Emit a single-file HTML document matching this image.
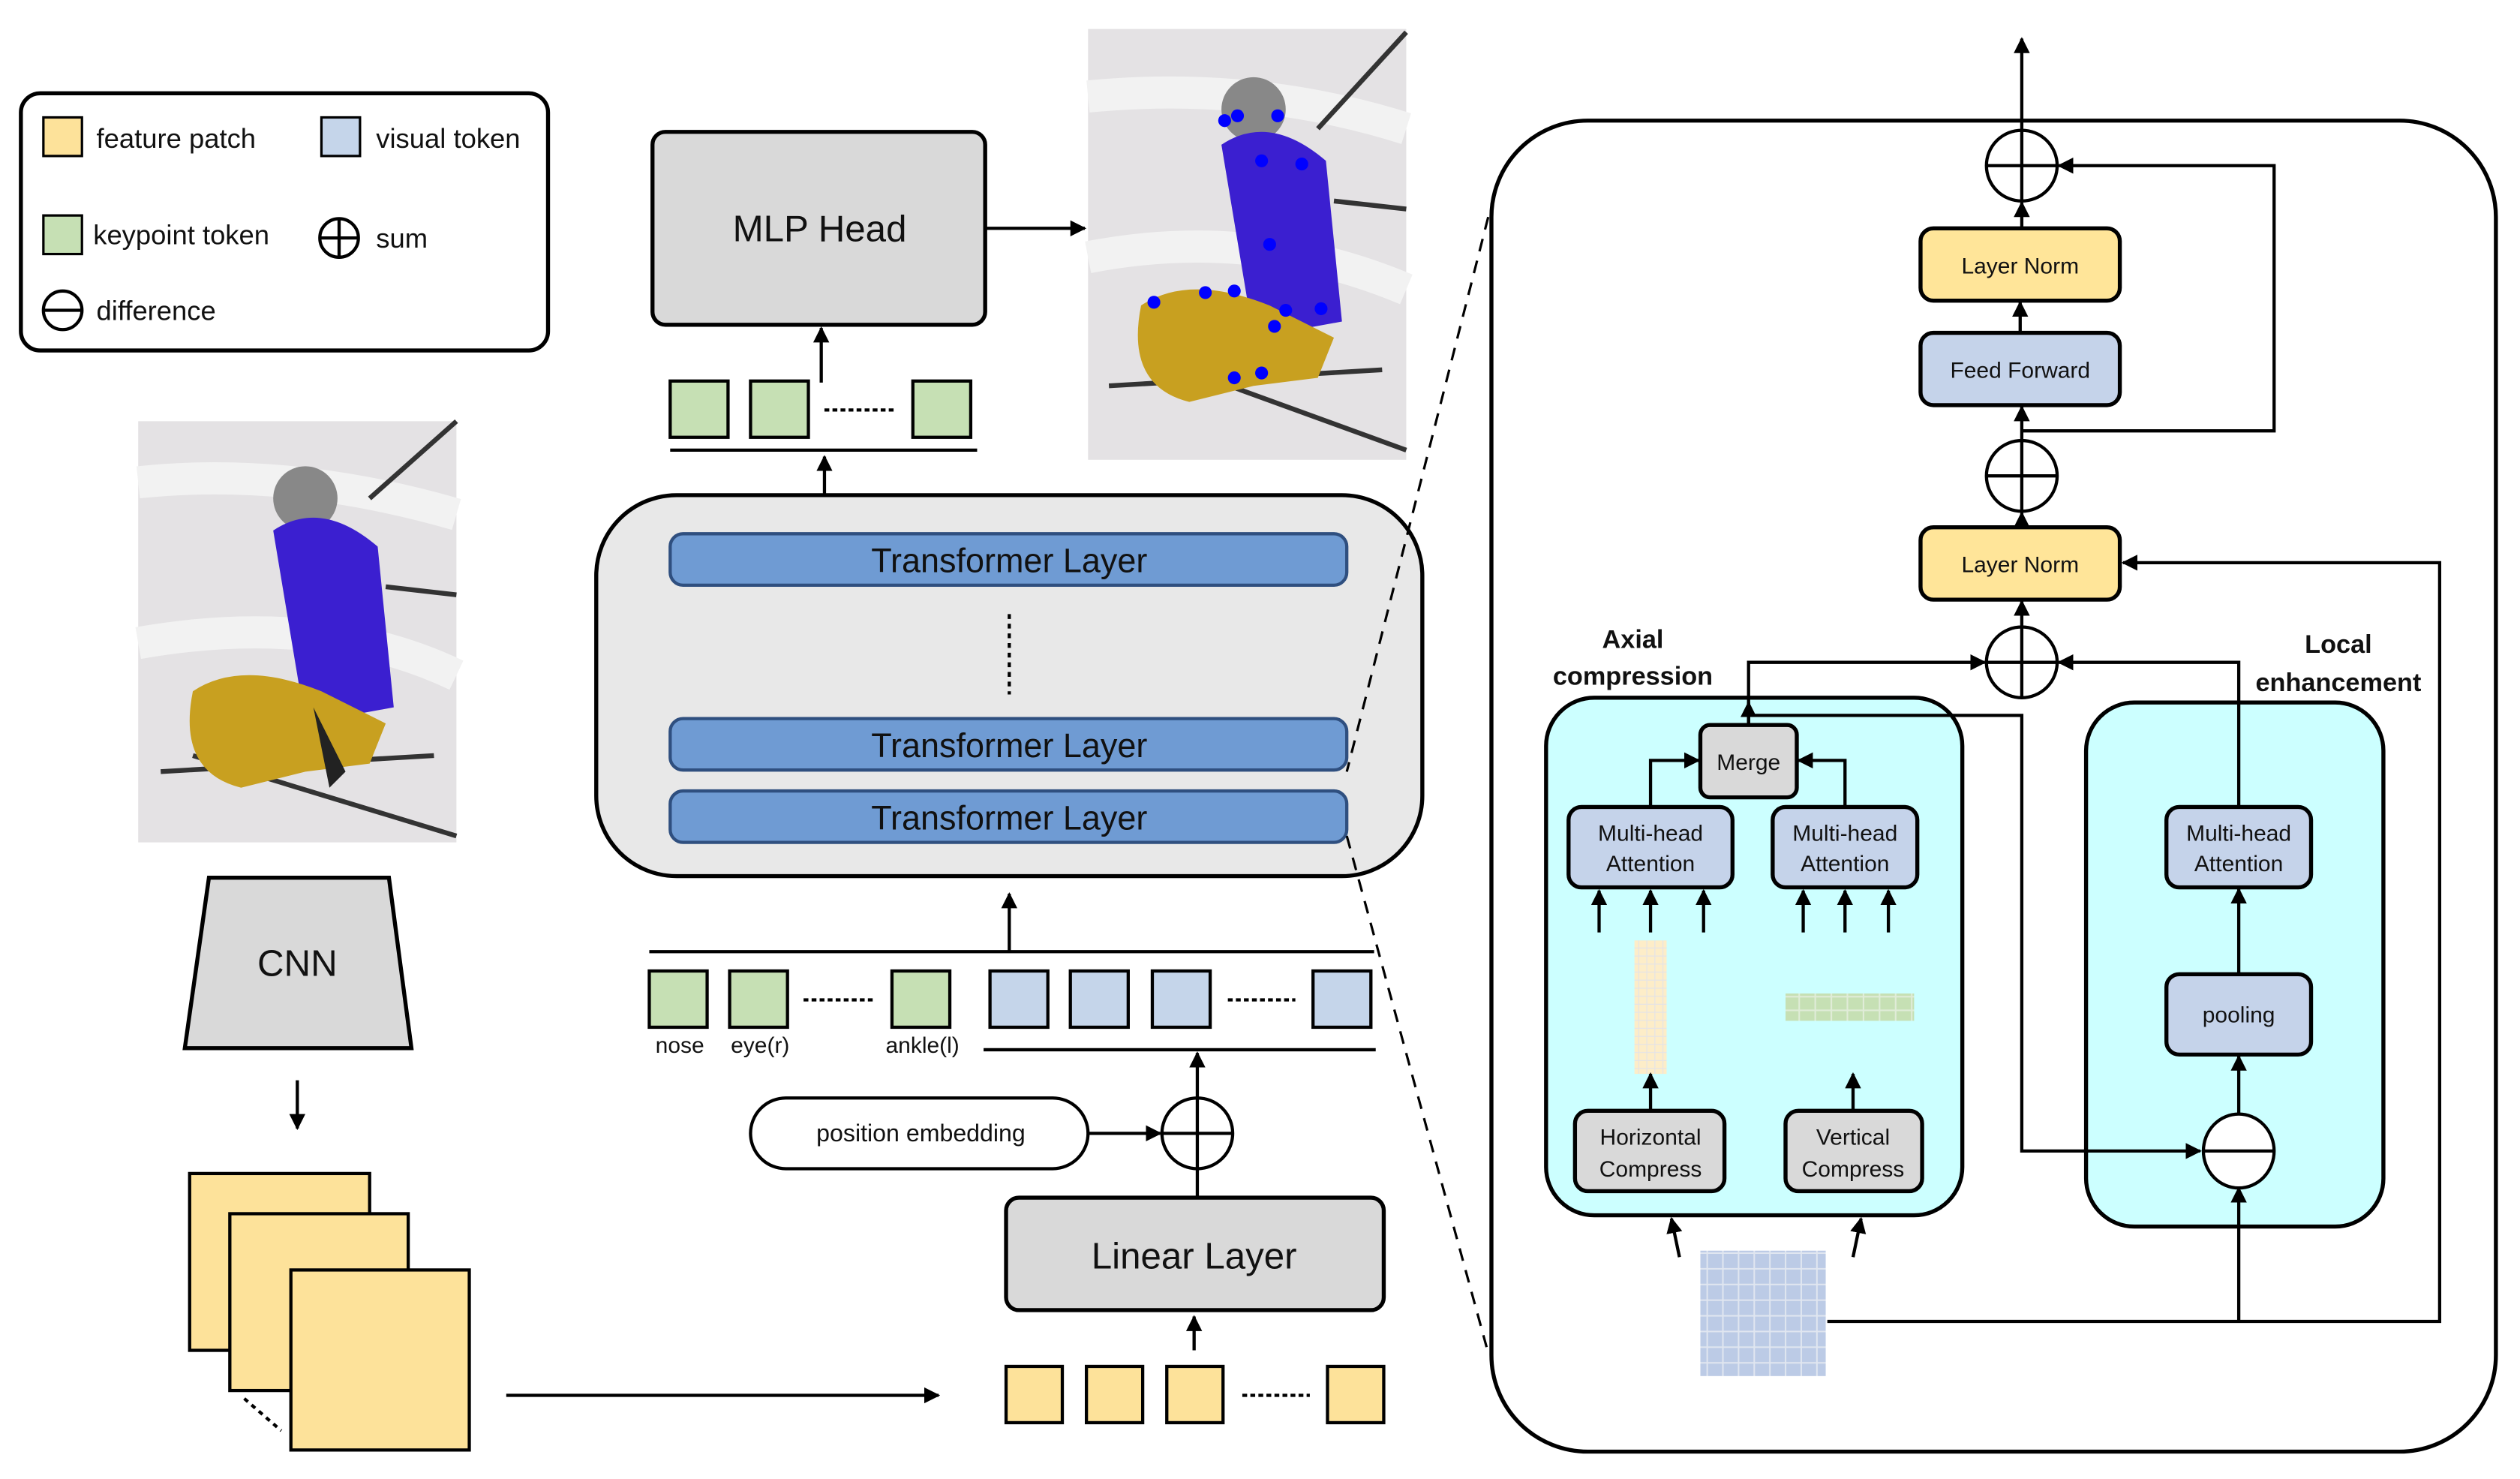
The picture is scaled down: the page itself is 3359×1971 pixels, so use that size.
<!DOCTYPE html>
<html><head><meta charset="utf-8"><style>
html,body{margin:0;padding:0;background:#fff}
svg{display:block}
text{font-family:"Liberation Sans",sans-serif;fill:#111}
</style></head><body>
<svg width="3359" height="1971" viewBox="0 0 1568 920" xmlns="http://www.w3.org/2000/svg">
<defs>
<marker id="a" viewBox="0 0 10 10" refX="9" refY="5" markerWidth="5" markerHeight="5" orient="auto"><path d="M0,0L10,5L0,10z" fill="#000"/></marker>
<pattern id="gy" width="5" height="5" patternUnits="userSpaceOnUse"><rect width="5" height="5" fill="#e6e4e4"/><rect width="4.4" height="4.4" fill="#fdedc8"/></pattern>
<pattern id="gg" width="10" height="8.5" patternUnits="userSpaceOnUse"><rect width="10" height="8.5" fill="#e0ecd8"/><rect width="9" height="7.5" fill="#c6e0b4"/></pattern>
<pattern id="gb" width="9.75" height="9.75" patternUnits="userSpaceOnUse"><rect width="9.75" height="9.75" fill="#e0e6f0"/><rect width="8.8" height="8.8" fill="#bccbe6"/></pattern>
</defs>
<g stroke="#000" stroke-width="2" fill="none">
<rect x="13" y="58" width="328" height="160" rx="12" stroke-width="2.5"/>
<rect x="27" y="73" width="24" height="24" fill="#fde29a" stroke-width="1.5"/>
<rect x="200" y="73" width="24" height="24" fill="#c5d5ea" stroke-width="1.5"/>
<rect x="27" y="134" width="24" height="24" fill="#c6e0b4" stroke-width="1.5"/>
<circle cx="211" cy="148" r="12"/><path d="M199,148h24M211,136v24"/>
<circle cx="39" cy="193" r="12"/><path d="M27,193h24"/>
<path d="M130,546H242L256,652H115Z" fill="#d9d9d9" stroke-width="2.5"/>
<path d="M185,672V702" marker-end="url(#a)"/>
<rect x="118" y="730" width="112" height="110" fill="#fde29a"/>
<rect x="143" y="755" width="111" height="110" fill="#fde29a"/>
<rect x="181" y="790" width="111" height="112" fill="#fde29a"/>
<path d="M152,870L175,890" stroke-dasharray="3,3"/>
<path d="M315,868H584" marker-end="url(#a)"/>
<rect x="626" y="850" width="35" height="35" fill="#fde29a"/>
<rect x="676" y="850" width="35" height="35" fill="#fde29a"/>
<rect x="726" y="850" width="35" height="35" fill="#fde29a"/>
<rect x="826" y="850" width="35" height="35" fill="#fde29a"/>
<path d="M773,868H815" stroke-dasharray="3,2"/>
<path d="M743,840V819" marker-end="url(#a)"/>
<rect x="626" y="745" width="235" height="70" rx="8" fill="#d9d9d9" stroke-width="2.5"/>
<path d="M745,745V727"/>
<circle cx="745" cy="705" r="22" fill="#fff"/><path d="M723,705h44M745,683v44"/>
<path d="M745,683V655" marker-end="url(#a)"/>
<rect x="467" y="683" width="210" height="44" rx="22" fill="#fff"/>
<path d="M677,705H722" marker-end="url(#a)"/>
<path d="M612,653H856M404,592H855"/>
<rect x="404" y="604" width="36" height="35" fill="#c6e0b4"/>
<rect x="454" y="604" width="36" height="35" fill="#c6e0b4"/>
<rect x="555" y="604" width="36" height="35" fill="#c6e0b4"/>
<rect x="616" y="604" width="36" height="35" fill="#c5d5ea"/>
<rect x="666" y="604" width="36" height="35" fill="#c5d5ea"/>
<rect x="717" y="604" width="36" height="35" fill="#c5d5ea"/>
<rect x="817" y="604" width="36" height="35" fill="#c5d5ea"/>
<path d="M500,622H543M764,622H806" stroke-dasharray="3,2"/>
<path d="M628,592V556" marker-end="url(#a)"/>
<rect x="371" y="308" width="514" height="237" rx="50" fill="#e8e8e8" stroke-width="2.5"/>
<rect x="417" y="332" width="421" height="32" rx="8" fill="#6f9bd3" stroke="#2f4f7f"/>
<rect x="417" y="447" width="421" height="32" rx="8" fill="#6f9bd3" stroke="#2f4f7f"/>
<rect x="417" y="492" width="421" height="32" rx="8" fill="#6f9bd3" stroke="#2f4f7f"/>
<path d="M628,382V432" stroke-dasharray="3,3"/>
<path d="M513,308V284" marker-end="url(#a)"/>
<path d="M417,280H608"/>
<rect x="417" y="237" width="36" height="35" fill="#c6e0b4"/>
<rect x="467" y="237" width="36" height="35" fill="#c6e0b4"/>
<rect x="568" y="237" width="36" height="35" fill="#c6e0b4"/>
<path d="M513,255H556" stroke-dasharray="3,2"/>
<path d="M511,238V204" marker-end="url(#a)"/>
<rect x="406" y="82" width="207" height="120" rx="8" fill="#d9d9d9" stroke-width="2.5"/>
<path d="M613,142H675" marker-end="url(#a)"/>
<path d="M926,135L838,480M838,520L925,838" stroke-dasharray="8,6" stroke-width="1.5"/>
<rect x="928" y="75" width="625" height="828" rx="60" fill="#fff" stroke-width="2.5"/>
<path d="M1258,81V24" marker-end="url(#a)"/>
<circle cx="1258" cy="103" r="22" fill="#fff"/><path d="M1236,103h44M1258,81v44"/>
<path d="M1258,142V126" marker-end="url(#a)"/>
<rect x="1195" y="142" width="124" height="45" rx="8" fill="#ffe599" stroke-width="2.5"/>
<path d="M1257,207V188" marker-end="url(#a)"/>
<rect x="1195" y="207" width="124" height="45" rx="8" fill="#c5d3ea" stroke-width="2.5"/>
<path d="M1258,274V253" marker-end="url(#a)"/>
<circle cx="1258" cy="296" r="22" fill="#fff"/><path d="M1236,296h44M1258,274v44"/>
<path d="M1258,268H1415V103H1281" marker-end="url(#a)"/>
<path d="M1258,328V319" marker-end="url(#a)"/>
<rect x="1195" y="328" width="124" height="45" rx="8" fill="#ffe599" stroke-width="2.5"/>
<path d="M1258,390V374" marker-end="url(#a)"/>
<circle cx="1258" cy="412" r="22" fill="#fff"/><path d="M1236,412h44M1258,390v44"/>
<path d="M1137,822H1518V350H1321" marker-end="url(#a)"/>
<rect x="962" y="434" width="259" height="322" rx="30" fill="#ccffff" stroke-width="2.5"/>
<rect x="1298" y="437" width="185" height="326" rx="30" fill="#ccffff" stroke-width="2.5"/>
<path d="M1088,451V412H1235" marker-end="url(#a)"/>
<path d="M1088,445H1258V716H1369" marker-end="url(#a)"/>
<path d="M1088,451V437" marker-end="url(#a)"/>
<rect x="1058" y="451" width="60" height="45" rx="6" fill="#d9d9d9" stroke-width="2.5"/>
<rect x="976" y="502" width="102" height="50" rx="8" fill="#c5d3ea" stroke-width="2.5"/>
<rect x="1103" y="502" width="90" height="50" rx="8" fill="#c5d3ea" stroke-width="2.5"/>
<path d="M1027,502V473H1057" marker-end="url(#a)"/>
<path d="M1148,502V473H1119" marker-end="url(#a)"/>
<path d="M995,580V554" marker-end="url(#a)"/>
<path d="M1027,580V554" marker-end="url(#a)"/>
<path d="M1060,580V554" marker-end="url(#a)"/>
<path d="M1122,580V554" marker-end="url(#a)"/>
<path d="M1148,580V554" marker-end="url(#a)"/>
<path d="M1175,580V554" marker-end="url(#a)"/>
<rect x="1017" y="585" width="20" height="83" fill="url(#gy)" stroke="none"/>
<rect x="1111" y="618" width="80" height="17" fill="url(#gg)" stroke="none"/>
<path d="M1027,691V668" marker-end="url(#a)"/>
<path d="M1153,691V668" marker-end="url(#a)"/>
<rect x="980" y="691" width="93" height="50" rx="8" fill="#d9d9d9" stroke-width="2.5"/>
<rect x="1111" y="691" width="85" height="50" rx="8" fill="#d9d9d9" stroke-width="2.5"/>
<path d="M1045,782L1040,758" marker-end="url(#a)"/>
<path d="M1153,782L1158,758" marker-end="url(#a)"/>
<rect x="1058" y="778" width="78" height="78" fill="url(#gb)" stroke="none"/>
<rect x="1348" y="502" width="90" height="50" rx="8" fill="#c5d3ea" stroke-width="2.5"/>
<rect x="1348" y="606" width="90" height="50" rx="8" fill="#c5d3ea" stroke-width="2.5"/>
<path d="M1393,502V412H1281" marker-end="url(#a)"/>
<path d="M1393,606V553" marker-end="url(#a)"/>
<path d="M1393,694V657" marker-end="url(#a)"/>
<path d="M1393,822V739" marker-end="url(#a)"/>
<ellipse cx="1393" cy="716" rx="22" ry="23" fill="#fff"/><path d="M1371,716h44"/>
</g>
<g>
<rect x="86" y="262" width="198" height="262" fill="#e4e2e4"/>
<path d="M86,300Q180,290 284,320M86,400Q200,380 284,420" stroke="#f2f2f2" stroke-width="20" fill="none"/>
<path d="M230,310L284,262M240,365L284,370M120,470L284,520M100,480L270,470" stroke="#333" stroke-width="3"/>
<circle cx="190" cy="310" r="20" fill="#888"/>
<path d="M170,330Q200,310 235,340L245,440L190,450Z" fill="#3b1fd0"/>
<path d="M120,430Q150,410 200,430L240,450L230,475L190,480L150,490Q110,480 120,430Z" fill="#c8a020"/>
<path d="M195,440L215,480L205,490Z" fill="#222"/>
<rect x="677" y="18" width="198" height="268" fill="#e4e2e4"/>
<path d="M677,60Q780,50 875,80M677,160Q780,140 875,180" stroke="#f2f2f2" stroke-width="20" fill="none"/>
<path d="M820,80L875,20M830,125L875,130M710,220L875,280M690,240L860,230" stroke="#333" stroke-width="3"/>
<circle cx="780" cy="68" r="20" fill="#888"/>
<path d="M760,90Q790,70 825,100L835,200L780,210Z" fill="#3b1fd0"/>
<path d="M710,190Q740,170 790,190L830,210L820,235L780,240L740,250Q700,240 710,190Z" fill="#c8a020"/>
<g fill="#0000ff"><circle cx="762" cy="75" r="4"/><circle cx="770" cy="72" r="4"/><circle cx="795" cy="72" r="4"/><circle cx="785" cy="100" r="4"/><circle cx="810" cy="102" r="4"/><circle cx="790" cy="152" r="4"/><circle cx="750" cy="182" r="4"/><circle cx="768" cy="181" r="4"/><circle cx="718" cy="188" r="4"/><circle cx="800" cy="193" r="4"/><circle cx="822" cy="192" r="4"/><circle cx="793" cy="203" r="4"/><circle cx="768" cy="235" r="4"/><circle cx="785" cy="232" r="4"/></g>
</g>
<g font-size="17">
<text x="60" y="92">feature patch</text>
<text x="234" y="92">visual token</text>
<text x="58" y="152">keypoint token</text>
<text x="234" y="154">sum</text>
<text x="60" y="199">difference</text>
</g>
<text x="185" y="607" font-size="23" text-anchor="middle">CNN</text>
<text x="743" y="789" font-size="23" text-anchor="middle">Linear Layer</text>
<text x="573" y="710" font-size="15" text-anchor="middle">position embedding</text>
<g font-size="14" text-anchor="middle"><text x="423" y="655">nose</text><text x="473" y="655">eye(r)</text><text x="574" y="655">ankle(l)</text></g>
<g font-size="21" text-anchor="middle"><text x="628" y="356">Transformer Layer</text><text x="628" y="471">Transformer Layer</text><text x="628" y="516">Transformer Layer</text></g>
<text x="510" y="150" font-size="23" text-anchor="middle">MLP Head</text>
<g font-size="14" text-anchor="middle">
<text x="1257" y="170">Layer Norm</text>
<text x="1257" y="235">Feed Forward</text>
<text x="1257" y="356">Layer Norm</text>
<text x="1088" y="479">Merge</text>
<text x="1027" y="523">Multi-head</text><text x="1027" y="542">Attention</text>
<text x="1148" y="523">Multi-head</text><text x="1148" y="542">Attention</text>
<text x="1393" y="523">Multi-head</text><text x="1393" y="542">Attention</text>
<text x="1393" y="636">pooling</text>
<text x="1027" y="712">Horizontal</text><text x="1027" y="732">Compress</text>
<text x="1153" y="712">Vertical</text><text x="1153" y="732">Compress</text>
</g>
<g font-size="16" font-weight="bold" text-anchor="middle">
<text x="1016" y="403">Axial</text><text x="1016" y="426">compression</text>
<text x="1455" y="406">Local</text><text x="1455" y="430">enhancement</text>
</g>
</svg>
</body></html>
